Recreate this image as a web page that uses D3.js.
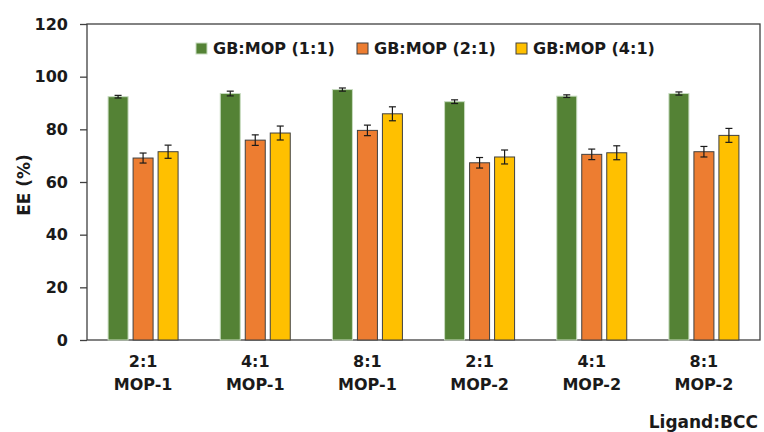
<!DOCTYPE html>
<html>
<head>
<meta charset="utf-8">
<script src="https://cdn.jsdelivr.net/npm/d3@7"></script>
<style>
  body { margin: 0; background: #fff; }
  text { font-family: "DejaVu Sans", sans-serif; font-weight: bold; fill: #1a1a1a; }
</style>
</head>
<body>
<script>
// categories and series
const ratios = ['2:1', '4:1', '8:1', '2:1', '4:1', '8:1']
const mops = ['MOP-1', 'MOP-1', 'MOP-1', 'MOP-2', 'MOP-2', 'MOP-2']
const seriesNames = ['GB:MOP (1:1)', 'GB:MOP (2:1)', 'GB:MOP (4:1)']
const seriesColors = ['#548235', '#ED7D31', '#FFC000']
const seriesStrokes = ['#c8dcc0', '#404040', '#404040']

const ee11 = [92.4, 93.6, 95.1, 90.5, 92.6, 93.6]
const ee21 = [69.1, 75.9, 79.6, 67.3, 70.5, 71.5]
const ee41 = [71.5, 78.6, 85.9, 69.5, 71.1, 77.7]
const err11 = [0.5, 0.9, 0.6, 0.7, 0.5, 0.6]
const err21 = [1.9, 2.0, 2.0, 2.0, 2.0, 2.0]
const err41 = [2.5, 2.65, 2.65, 2.65, 2.65, 2.65]
const yTicks = [0, 20, 40, 60, 80, 100, 120]

const values = [ee11, ee21, ee41]
const errors = [err11, err21, err41]

const W = 764, H = 432
const margin = {top: 24, right: 4, bottom: 92, left: 87}
const width = W - margin.left - margin.right,
  height = H - margin.top - margin.bottom
const groupWidth = 70

const svg = d3.select('body').append('svg')
    .attr('width', W)
    .attr('height', H),
  g = svg.append('g')
    .attr('transform', 'translate(' + margin.left + ',' + margin.top + ')')

const x0 = d3.scaleBand()
  .domain(d3.range(ratios.length))
  .range([0, width])

const x1 = d3.scaleBand()
  .domain(d3.range(seriesNames.length))
  .range([0, groupWidth])
  .paddingInner(0.2)

const y = d3.scaleLinear()
  .domain([0, 120])
  .range([height, 0])

// frame
g.append('rect')
  .attr('width', width)
  .attr('height', height)
  .attr('fill', 'none')
  .attr('stroke', '#404040')
  .attr('stroke-width', 1.3)

// y axis
const yAxis = g.append('g')
  .call(d3.axisLeft(y).tickValues(yTicks).tickSize(7).tickPadding(12))
yAxis.select('.domain').remove()
yAxis.selectAll('line').attr('stroke', '#404040').attr('stroke-width', 1.3)
yAxis.selectAll('text').style('font-size', '16px').style('font-family', '"DejaVu Sans", sans-serif').style('font-weight', 'bold').attr('fill', '#1a1a1a')

// bars
const groupOffset = (x0.bandwidth() - groupWidth) / 2
const group = g.selectAll('.group')
  .data(d3.range(ratios.length))
  .enter().append('g')
  .attr('class', 'group')
  .attr('transform', function (i) {
    return 'translate(' + (x0(i) + groupOffset) + ',0)'
  })

seriesNames.forEach(function (name, s) {
  group.append('rect')
    .attr('x', x1(s))
    .attr('width', x1.bandwidth())
    .attr('y', function (i) { return y(values[s][i]) })
    .attr('height', function (i) { return y(0) - y(values[s][i]) })
    .attr('fill', seriesColors[s])
    .attr('stroke', seriesStrokes[s])
    .attr('stroke-width', 1)

  const cx = x1(s) + x1.bandwidth() / 2
  const eb = group.append('g').attr('class', 'err')
  eb.append('line')
    .attr('x1', cx).attr('x2', cx)
    .attr('y1', function (i) { return y(values[s][i] + errors[s][i]) })
    .attr('y2', function (i) { return y(values[s][i] - errors[s][i]) })
  eb.append('line')
    .attr('x1', cx - 3.5).attr('x2', cx + 3.5)
    .attr('y1', function (i) { return y(values[s][i] + errors[s][i]) })
    .attr('y2', function (i) { return y(values[s][i] + errors[s][i]) })
  eb.append('line')
    .attr('x1', cx - 3.5).attr('x2', cx + 3.5)
    .attr('y1', function (i) { return y(values[s][i] - errors[s][i]) })
    .attr('y2', function (i) { return y(values[s][i] - errors[s][i]) })
  eb.selectAll('line').attr('stroke', '#1a1a1a').attr('stroke-width', 1.2)
})

// category labels
const cat = g.selectAll('.cat')
  .data(d3.range(ratios.length))
  .enter().append('text')
  .attr('class', 'cat')
  .attr('text-anchor', 'middle')
  .style('font-size', '16px')
  .attr('transform', function (i) {
    return 'translate(' + (x0(i) + x0.bandwidth() / 2) + ',' + (height + 27) + ')'
  })
cat.append('tspan').attr('x', 0).text(function (i) { return ratios[i] })
cat.append('tspan').attr('x', 0).attr('dy', 23).text(function (i) { return mops[i] })

// axis titles
svg.append('text')
  .attr('transform', 'translate(30,185) rotate(-90)')
  .attr('text-anchor', 'middle')
  .style('font-size', '17px')
  .text('EE (%)')

svg.append('text')
  .attr('x', 758)
  .attr('y', 428)
  .attr('text-anchor', 'end')
  .style('font-size', '17px')
  .text('Ligand:BCC')

// legend
const legendX = [196, 357, 516]
const legend = svg.selectAll('.legend')
  .data(seriesNames)
  .enter().append('g')
  .attr('class', 'legend')
  .attr('transform', function (d, i) {
    return 'translate(' + legendX[i] + ',43)'
  })
legend.append('rect')
  .attr('width', 11)
  .attr('height', 11)
  .attr('fill', function (d, i) { return seriesColors[i] })
  .attr('stroke', function (d, i) { return seriesStrokes[i] })
legend.append('text')
  .attr('x', 17)
  .attr('y', 11)
  .style('font-size', '16px')
  .text(function (d) { return d })
</script>
</body>
</html>
